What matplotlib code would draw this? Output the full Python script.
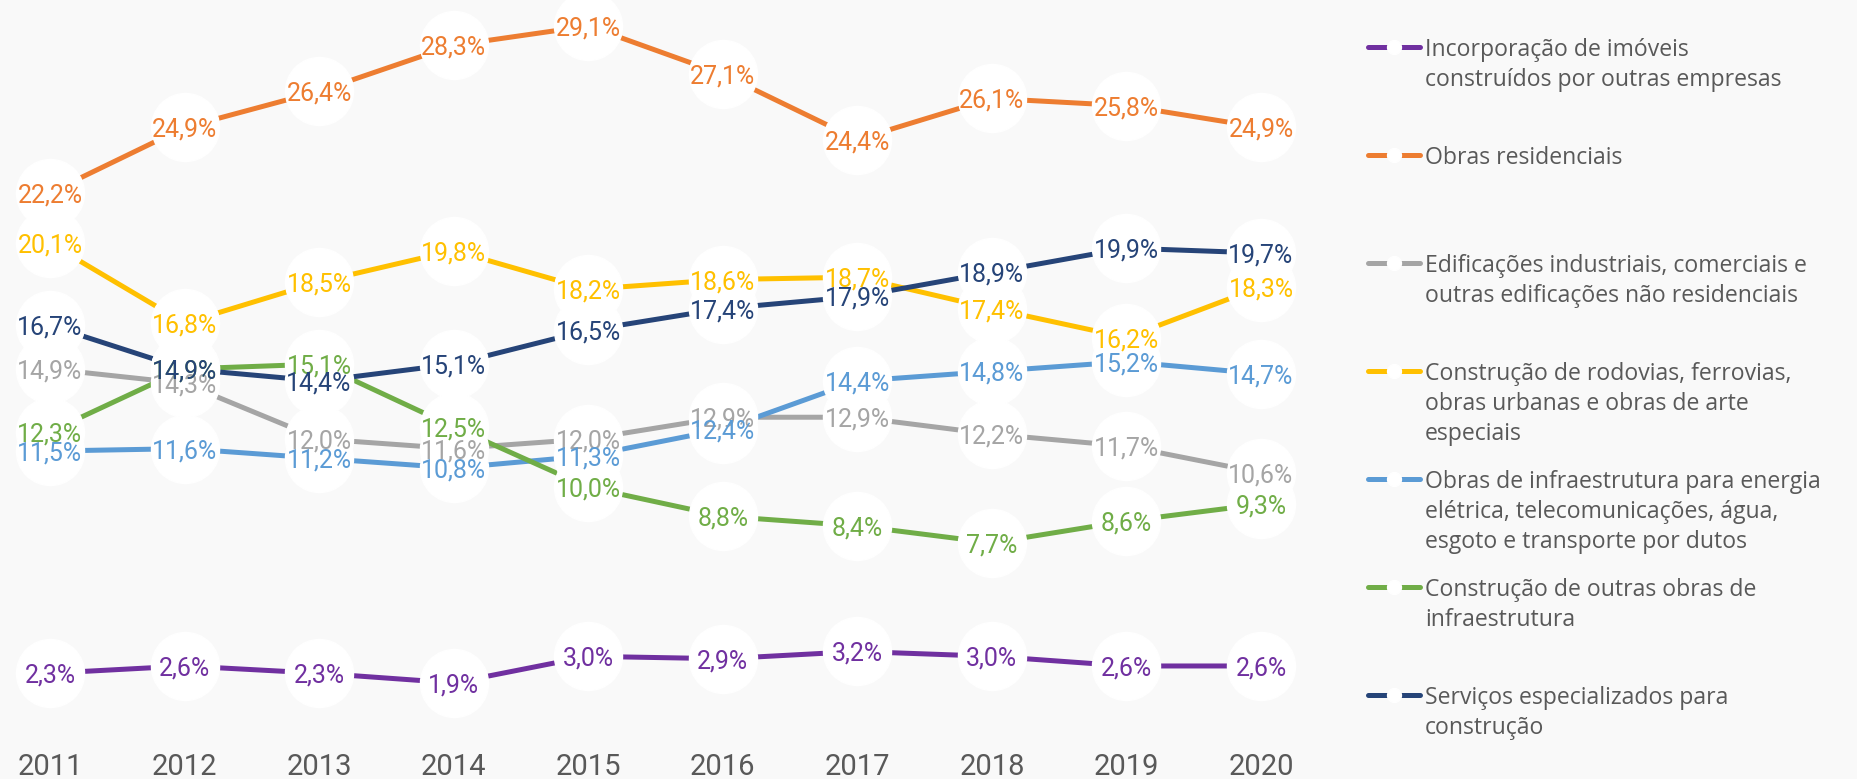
import matplotlib
matplotlib.use("Agg")
import matplotlib.pyplot as plt

# data (%)
years = ["2011", "2012", "2013", "2014", "2015", "2016", "2017", "2018", "2019", "2020"]
incorporacao = [2.3, 2.6, 2.3, 1.9, 3.0, 2.9, 3.2, 3.0, 2.6, 2.6]
residenciais = [22.2, 24.9, 26.4, 28.3, 29.1, 27.1, 24.4, 26.1, 25.8, 24.9]
edificacoes = [14.9, 14.3, 12.0, 11.6, 12.0, 12.9, 12.9, 12.2, 11.7, 10.6]
rodovias = [20.1, 16.8, 18.5, 19.8, 18.2, 18.6, 18.7, 17.4, 16.2, 18.3]
energia = [11.5, 11.6, 11.2, 10.8, 11.3, 12.4, 14.4, 14.8, 15.2, 14.7]
outras_infra = [12.3, 14.9, 15.1, 12.5, 10.0, 8.8, 8.4, 7.7, 8.6, 9.3]
servicos = [16.7, 14.9, 14.4, 15.1, 16.5, 17.4, 17.9, 18.9, 19.9, 19.7]

labels = [
    "Incorporação de imóveis\nconstruídos por outras empresas",
    "Obras residenciais",
    "Edificações industriais, comerciais e\noutras edificações não residenciais",
    "Construção de rodovias, ferrovias,\nobras urbanas e obras de arte\nespeciais",
    "Obras de infraestrutura para energia\nelétrica, telecomunicações, água,\nesgoto e transporte por dutos",
    "Construção de outras obras de\ninfraestrutura",
    "Serviços especializados para\nconstrução",
]
series = [incorporacao, residenciais, edificacoes, rodovias, energia, outras_infra, servicos]
colors = ["#7030A0", "#ED7D31", "#A5A5A5", "#FFC000", "#5B9BD5", "#70AD47", "#264478"]

W, H = 1857, 779
fig = plt.figure(figsize=(W / 100, H / 100), dpi=100)
fig.patch.set_facecolor("#F9F9F9")

# pixel layout of the plot: first year at x=50, step 134.56 px; 29.1% at y=26, 24.15 px per %
x0, dx = 50, 134.56
y_top, v_top, dy = 26, 29.1, 24.15

ax = fig.add_axes([0, 0, 1, 1])
ax.set_xlim(-x0 / dx, (W - x0) / dx)
ax.set_ylim(v_top - (H - y_top) / dy, v_top + y_top / dy)
ax.axis("off")

xs = list(range(len(years)))
for vals, c in zip(series, colors):
    ax.plot(xs, vals, color=c, lw=3.6, zorder=2, solid_capstyle="butt")
    ax.plot(xs, vals, ls="none", marker="o", ms=49, mfc="white", mec="white",
            zorder=3, clip_on=False)
for vals, c in zip(series, colors):
    for x, v in zip(xs, vals):
        ax.text(x, v, f"{v:.1f}".replace(".", ",") + "%", color=c, fontsize=18,
                family=["Roboto", "DejaVu Sans"], ha="center", va="center_baseline",
                zorder=4)

# year labels along the bottom
base_v = v_top - (775 - y_top) / dy
for x, yr in zip(xs, years):
    ax.text(x, base_v, yr, ha="center", va="baseline", fontsize=21, color="#595959",
            family=["Roboto", "DejaVu Sans"])

# legend drawn in pixel coordinates
lg = fig.add_axes([0, 0, 1, 1])
lg.set_xlim(0, W)
lg.set_ylim(H, 0)
lg.axis("off")
lg.patch.set_alpha(0)
for k, (lab, c) in enumerate(zip(labels, colors)):
    yc = 47 + 108 * k
    lg.plot([1367.5, 1419.5], [yc, yc], color=c, lw=3.6, solid_capstyle="round")
    lg.plot([1393.5], [yc], marker="o", ms=10, mfc="white", mec="white")
    for j, line in enumerate(lab.split("\n")):
        lg.text(1425, yc + 30 * j + 8.5, line, fontsize=16.6, color="#595959",
                family=["Open Sans", "DejaVu Sans"], va="baseline", ha="left")

fig.savefig("out.png", dpi=100, facecolor=fig.get_facecolor())
